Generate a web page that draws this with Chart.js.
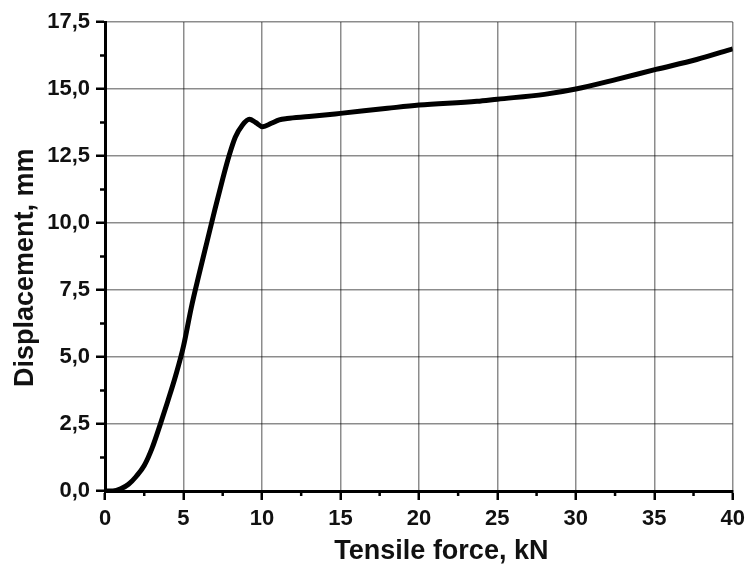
<!DOCTYPE html>
<html>
<head>
<meta charset="utf-8">
<script src="https://cdn.jsdelivr.net/npm/chart.js@4"></script>
<style>
  html, body { margin: 0; padding: 0; background: #fff; }
  #wrap { width: 751px; height: 568px; }
</style>
</head>
<body>
<div id="wrap"><canvas id="graph_ID" width="751" height="568"></canvas></div>
<script>
// tensile test curve
var forceKN = [0, 0.5, 1.0, 1.5, 2.0, 2.5, 3.0, 3.5, 4.0, 4.5, 5.0, 5.5, 6.0, 6.5, 7.0, 7.5, 7.9, 8.3, 8.75, 9.2, 9.6, 10.05, 10.6, 11.1, 11.6, 13, 15, 18, 20, 23.7, 25, 28, 30, 32.6, 35.1, 37.7, 40];
var displacementMM = [0, 0, 0.08, 0.25, 0.55, 0.95, 1.6, 2.45, 3.35, 4.3, 5.4, 6.85, 8.1, 9.3, 10.5, 11.65, 12.5, 13.2, 13.65, 13.87, 13.75, 13.59, 13.72, 13.85, 13.9, 13.97, 14.09, 14.28, 14.4, 14.54, 14.62, 14.8, 15.0, 15.36, 15.73, 16.1, 16.5];

var yTicks = { min: 0, max: 17.5, step: 2.5 };
var xTicks = { min: 0, max: 40, step: 5 };

var tickFont = { family: "'Liberation Sans', Arial, sans-serif", size: 22, weight: 'bold' };
var titleFont = { family: "'Liberation Sans', Arial, sans-serif", size: 27, weight: 'bold' };

// small ticks between the labelled ones
var minorTicks = {
  id: 'minorTicks',
  afterDraw: function (chart) {
    var ctx = chart.ctx;
    var xs = chart.scales.x, ys = chart.scales.y;
    ctx.save();
    ctx.strokeStyle = '#000';
    ctx.lineWidth = 2.5;
    ctx.beginPath();
    for (var v = yTicks.step / 2; v < yTicks.max; v += yTicks.step) {
      var py = ys.getPixelForValue(v);
      ctx.moveTo(ys.right - 5, py);
      ctx.lineTo(ys.right, py);
    }
    for (var u = xTicks.step / 2; u < xTicks.max; u += xTicks.step) {
      var px = xs.getPixelForValue(u);
      ctx.moveTo(px, xs.top);
      ctx.lineTo(px, xs.top + 5);
    }
    ctx.stroke();
    ctx.restore();
  }
};

var points = forceKN.map(function (f, i) { return { x: f, y: displacementMM[i] }; });

var ctx = document.getElementById('graph_ID').getContext('2d');
var graphique = new Chart(ctx, {
  type: 'line',
  data: {
    datasets: [{
      label: 'displacement',
      data: points,
      borderColor: '#000',
      borderWidth: 5,
      pointRadius: 0,
      cubicInterpolationMode: 'monotone',
      fill: false
    }]
  },
  options: {
    responsive: false,
    animation: false,
    layout: { padding: { top: 22, right: 14, left: 0, bottom: 0 } },
    plugins: {
      legend: { display: false },
      tooltip: { enabled: false }
    },
    scales: {
      x: {
        type: 'linear',
        min: xTicks.min,
        max: xTicks.max,
        afterFit: function (s) { s.height = 77; },
        ticks: {
          stepSize: xTicks.step,
          font: tickFont,
          color: '#111',
          padding: 6,
          maxRotation: 0
        },
        grid: {
          color: 'rgba(0,0,0,0.45)',
          lineWidth: 1.5,
          tickColor: '#000',
          tickWidth: 2.5,
          tickLength: 9
        },
        border: { display: true, color: '#000', width: 3 },
        title: {
          display: true,
          // leading spaces push the title a bit right, as in the picture
          text: '      Tensile force, kN',
          font: titleFont,
          color: '#111',
          padding: { top: 0, bottom: 0 }
        }
      },
      y: {
        type: 'linear',
        min: yTicks.min,
        max: yTicks.max,
        afterFit: function (s) { s.width = 105; },
        ticks: {
          stepSize: yTicks.step,
          font: tickFont,
          color: '#111',
          padding: 6,
          callback: function (v) { return v.toFixed(1).replace('.', ','); }
        },
        grid: {
          color: 'rgba(0,0,0,0.45)',
          lineWidth: 1.5,
          tickColor: '#000',
          tickWidth: 2.5,
          tickLength: 9
        },
        border: { display: true, color: '#000', width: 3 },
        title: {
          display: true,
          text: 'Displacement, mm   ',
          font: titleFont,
          color: '#111',
          padding: { top: 9, bottom: 0 }
        }
      }
    }
  },
  plugins: [minorTicks]
});
</script>
</body>
</html>
